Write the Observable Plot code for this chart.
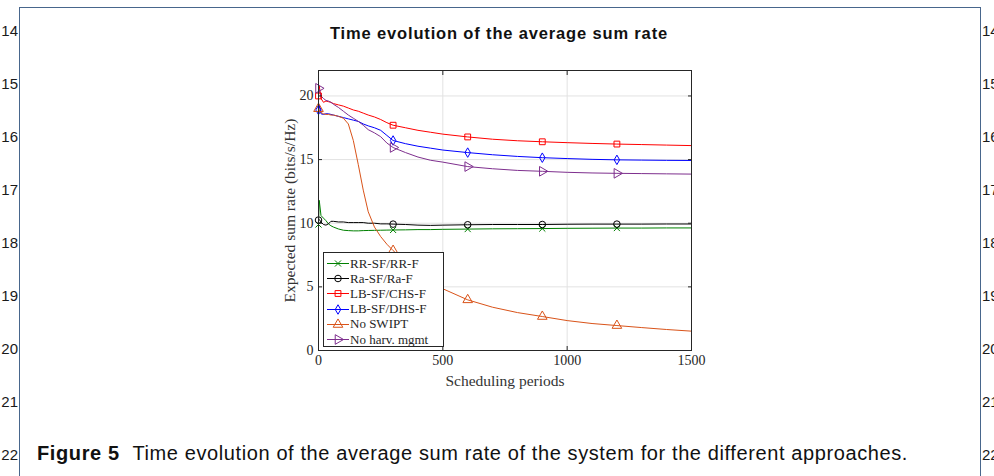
<!DOCTYPE html>
<html>
<head>
<meta charset="utf-8">
<script src="https://cdn.jsdelivr.net/npm/d3@7"></script>
<script src="https://cdn.jsdelivr.net/npm/@observablehq/plot@0.6"></script>
<style>
  html, body { margin: 0; padding: 0; background: #fff; }
  body { width: 994px; height: 476px; position: relative; overflow: hidden; font-family: "Liberation Sans", sans-serif; }
  .pageframe { position: absolute; left: 19px; top: 7px; width: 962px; height: 520px; border: 1px solid #48668c; border-bottom: none; box-sizing: border-box; }
  .ln { position: absolute; font-size: 15px; line-height: 15px; color: #1a1a1a; white-space: nowrap; }
  .ln.l { left: 0; width: 18px; text-align: right; }
  .ln.r { left: 982px; }
  #title { position: absolute; left: 0; top: 25px; width: 998px; text-align: center; font-weight: bold; font-size: 16.5px; line-height: 16px; color: #111; white-space: nowrap; }
  #chart { position: absolute; left: 250px; top: 60px; }
  #legend { position: absolute; left: 323px; top: 252px; width: 121px; height: 95px; box-sizing: border-box; border: 1px solid #262626; background: #fff; padding-top: 3px; font-family: "Liberation Serif", serif; font-size: 13px; color: #262626; }
  #legend .row { display: flex; align-items: center; height: 15.2px; white-space: nowrap; }
  #legend svg { margin-left: 2px; margin-right: 1px; flex: none; }
  #caption { position: absolute; left: 37px; top: 444px; font-size: 20px; line-height: 19px; color: #111; white-space: nowrap; }
  #caption b { margin-right: 7px; }
</style>
</head>
<body>
<div class="pageframe"></div>
<div id="title"><span>Time evolution of the average sum rate</span></div>
<div id="chart"></div>
<div id="legend"></div>
<div id="caption"><b>Figure 5</b> Time evolution of the average sum rate of the system for the different approaches.</div>
<script>
// ---- data ----
const lineNumbers = [14, 15, 16, 17, 18, 19, 20, 21, 22];
const seriesNames = ["RR-SF/RR-F", "Ra-SF/Ra-F", "LB-SF/CHS-F", "LB-SF/DHS-F", "No SWIPT", "No harv. mgmt"];
const seriesColors = ["#008000", "#000000", "#ff0000", "#0000ff", "#d95319", "#7e2f8e"];
const xTicks = [0, 500, 1000, 1500];
const yTicks = [0, 5, 10, 15, 20];
const xLabel = "Scheduling periods";
const yLabel = "Expected sum rate (bits/s/Hz)";
const markerPeriods = [0, 300, 600, 900, 1200];
const periods = [0, 3, 10, 20, 30, 40, 50, 60, 80, 100, 120, 140, 160, 180, 200, 225, 250, 275, 300, 350, 400, 450, 500, 600, 700, 800, 900, 1000, 1100, 1200, 1300, 1400, 1500];
const rrValues = [9.9, 11.8, 10.6, 10.4, 10.2, 9.95, 9.8, 9.7, 9.55, 9.45, 9.42, 9.4, 9.4, 9.42, 9.43, 9.44, 9.45, 9.46, 9.47, 9.48, 9.5, 9.5, 9.52, 9.54, 9.56, 9.57, 9.58, 9.6, 9.61, 9.62, 9.62, 9.63, 9.63];
const raValues = [10.25, 10.3, 10.1, 9.9, 9.85, 9.95, 10.15, 10.15, 10.1, 10.1, 10.05, 10.05, 10.05, 10.05, 10.0, 10.0, 9.95, 9.95, 9.93, 9.9, 9.85, 9.83, 9.85, 9.88, 9.9, 9.9, 9.9, 9.92, 9.93, 9.93, 9.93, 9.94, 9.94];
const chsValues = [20.0, 20.8, 19.8, 19.5, 19.6, 19.55, 19.5, 19.4, 19.3, 19.2, 19.05, 18.9, 18.8, 18.65, 18.5, 18.35, 18.15, 17.9, 17.7, 17.5, 17.3, 17.15, 17.0, 16.78, 16.6, 16.48, 16.4, 16.33, 16.27, 16.22, 16.18, 16.14, 16.1];
const dhsValues = [18.9, 19.3, 18.6, 18.55, 18.6, 18.6, 18.55, 18.5, 18.4, 18.3, 18.2, 18.1, 18.0, 17.8, 17.65, 17.5, 17.3, 16.9, 16.5, 16.25, 16.05, 15.9, 15.75, 15.55, 15.38, 15.25, 15.15, 15.08, 15.02, 14.98, 14.96, 14.94, 14.93];
const noSwiptValues = [19.0, 18.9, 18.7, 18.6, 18.55, 18.55, 18.5, 18.5, 18.4, 18.25, 17.8, 16.5, 14.6, 12.6, 10.9, 9.7, 8.95, 8.35, 7.85, 6.95, 6.1, 5.4, 4.85, 3.98, 3.4, 2.98, 2.67, 2.35, 2.12, 1.96, 1.8, 1.65, 1.52];
const noHarvValues = [20.6, 20.5, 20.0, 19.8, 19.65, 19.6, 19.5, 19.35, 19.1, 18.8, 18.5, 18.25, 18.0, 17.7, 17.35, 17.1, 16.8, 16.3, 15.95, 15.55, 15.2, 14.95, 14.8, 14.45, 14.28, 14.15, 14.08, 14.0, 13.95, 13.92, 13.9, 13.88, 13.86];

// ---- symbols ----
const triangleRight = {
  draw(context, size) {
    const y = -Math.sqrt(size / (Math.sqrt(3) * 3));
    context.moveTo(-2 * y, 0);
    context.lineTo(y, Math.sqrt(3) * y);
    context.lineTo(y, -Math.sqrt(3) * y);
    context.closePath();
  }
};
const seriesSymbols = [d3.symbolTimes, d3.symbolCircle, d3.symbolSquare, d3.symbolDiamond, d3.symbolTriangle, triangleRight];
const symbolSizes = [26, 34, 34, 26, 40, 40];

const valuesList = [rrValues, raValues, chsValues, dhsValues, noSwiptValues, noHarvValues];
const rows = [];
seriesNames.forEach((s, i) => periods.forEach((p, j) => rows.push({series: s, period: p, rate: valuesList[i][j]})));
const markerRows = rows.filter(d => markerPeriods.includes(d.period));

// ---- line numbers ----
lineNumbers.forEach((n, i) => {
  const top = 23 + i * 53;
  for (const side of ["l", "r"]) {
    const el = document.createElement("div");
    el.className = "ln " + side;
    el.style.top = top + "px";
    el.textContent = n;
    document.body.appendChild(el);
  }
});

// ---- chart ----
const dotMarks = seriesNames.map((s, i) => Plot.dot(markerRows.filter(d => d.series === s), {
  x: "period", y: "rate", stroke: seriesColors[i], strokeWidth: 1, fill: "none",
  symbol: seriesSymbols[i], r: Math.sqrt(symbolSizes[i] / Math.PI)
}));

const chart = Plot.plot({
  width: 470,
  height: 340,
  marginLeft: 68,
  marginRight: 29,
  marginTop: 10,
  marginBottom: 50,
  style: {fontFamily: "Liberation Serif, serif", fontSize: "14px", color: "#262626", background: "transparent", overflow: "visible"},
  x: {domain: [0, 1500]},
  y: {domain: [0, 22]},
  color: {domain: seriesNames, range: seriesColors},
  marks: [
    Plot.gridX({ticks: xTicks, stroke: "#e2e2e2", strokeOpacity: 1}),
    Plot.gridY({ticks: yTicks, stroke: "#e2e2e2", strokeOpacity: 1}),
    Plot.line(rows, {x: "period", y: "rate", z: "series", stroke: "series", strokeWidth: 1}),
    ...dotMarks,
    Plot.frame({stroke: "#262626", strokeWidth: 1}),
    Plot.axisX({ticks: xTicks, tickSize: -4, tickPadding: 9, tickFormat: d3.format("d"), label: null}),
    Plot.axisX({anchor: "top", ticks: xTicks, tickSize: -4, tickFormat: () => "", label: null}),
    Plot.axisY({ticks: yTicks, tickSize: -4, tickPadding: 9, tickFormat: d3.format("d"), label: null}),
    Plot.axisY({anchor: "right", ticks: yTicks, tickSize: -4, tickFormat: () => "", label: null}),
    Plot.text([xLabel], {text: d => d, frameAnchor: "bottom", textAnchor: "middle", dy: 31, lineAnchor: "middle", fontSize: 15.5, fill: "#333"}),
    Plot.text([yLabel], {text: d => d, frameAnchor: "left", textAnchor: "middle", rotate: -90, dx: -28.5, lineAnchor: "middle", fontSize: 15.5, fill: "#333"})
  ]
});
document.getElementById("chart").appendChild(chart);

// ---- legend ----
const legend = d3.select("#legend");
seriesNames.forEach((s, i) => {
  const row = legend.append("div").attr("class", "row");
  const svg = row.append("svg").attr("width", 23).attr("height", 15);
  svg.append("line").attr("x1", 1).attr("x2", 23).attr("y1", 7.5).attr("y2", 7.5)
    .attr("stroke", seriesColors[i]).attr("stroke-width", 1);
  svg.append("path").attr("d", d3.symbol(seriesSymbols[i], symbolSizes[i])())
    .attr("transform", "translate(12,7.5)").attr("fill", "none")
    .attr("stroke", seriesColors[i]).attr("stroke-width", 1);
  row.append("span").text(s);
});

// ---- fit title and caption widths to the reference ----
function fitWidth(el, target) {
  const w = el.getBoundingClientRect().width;
  const n = el.textContent.length;
  el.style.letterSpacing = ((target - w) / n).toFixed(3) + "px";
}
fitWidth(document.querySelector("#title span"), 338);
fitWidth(document.getElementById("caption"), 871);
</script>
</body>
</html>
